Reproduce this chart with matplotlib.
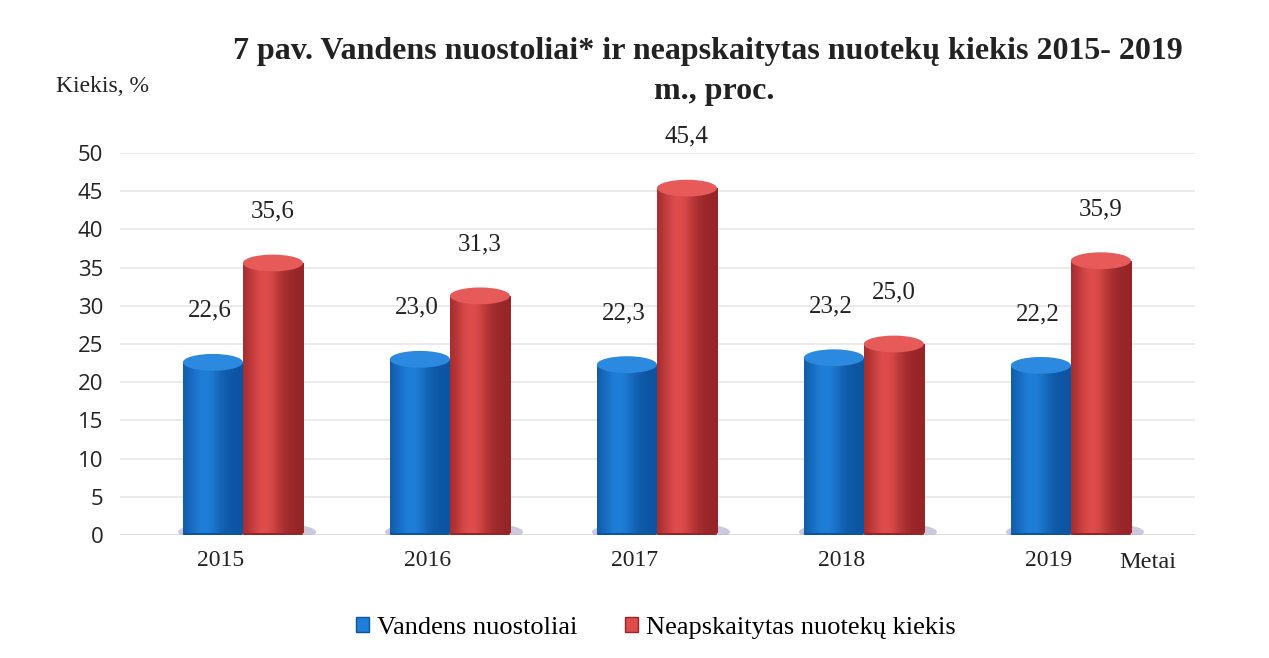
import matplotlib
matplotlib.use("Agg")
import matplotlib.pyplot as plt
import numpy as np
from matplotlib.patches import Ellipse, Patch
import matplotlib.transforms as mtransforms

years = ["2015", "2016", "2017", "2018", "2019"]
losses = [22.6, 23.0, 22.3, 23.2, 22.2]
unaccounted = [35.6, 31.3, 45.4, 25.0, 35.9]
labels_losses = ["22,6", "23,0", "22,3", "23,2", "22,2"]
labels_unacc = ["35,6", "31,3", "45,4", "25,0", "35,9"]
series_names = ["Vandens nuostoliai", "Neapskaitytas nuotekų kiekis"]
yticks = [0, 5, 10, 15, 20, 25, 30, 35, 40, 45, 50]

W, H = 1269, 658
fig = plt.figure(figsize=(W / 100, H / 100), dpi=100)
ax = fig.add_axes([120 / W, (H - 535) / H, 1075 / W, (535 - 153) / H])

x = np.arange(len(years))
bw = 0.29
blue = "#1f7fd8"
blue_dark = "#0d54a0"
red = "#df4c4c"
red_dark = "#962528"

ax.set_xlim(-0.594, 4.6)
ax.set_ylim(0, 50)

for v in yticks:
    ax.axhline(v, color="#e8e8e8", lw=1.2, zorder=0)

def cylinder(bars, base, dark, cap):
    for b in bars:
        x0, w, h = b.get_x(), b.get_width(), b.get_height()
        grad = np.linspace(0, 1, 256)
        shade = np.exp(-((grad - 0.35) ** 2) / 0.08)
        c1 = np.array(matplotlib.colors.to_rgb(dark))
        c2 = np.array(matplotlib.colors.to_rgb(base))
        img = c1[None, :] + (c2 - c1)[None, :] * shade[:, None]
        img = np.tile(img[None, :, :], (2, 1, 1))
        ax.add_patch(Ellipse((x0 + w / 2 + 0.02, 0.4), w * 1.3, 2.2,
                             color="#b9b3cf", alpha=0.7, zorder=1, lw=0))
        ax.add_patch(Ellipse((x0 + w / 2, 0.2), w, 2.0, color=dark, zorder=2, lw=0))
        im = ax.imshow(img, extent=(x0, x0 + w, 0.2, h), aspect="auto",
                       zorder=3, interpolation="bilinear")
        im.set_clip_path(b)
        ax.add_patch(Ellipse((x0 + w / 2, h), w, 2.2, color=cap, zorder=4, lw=0))

b1 = ax.bar(x - bw / 2, losses, bw, color="none", zorder=3, label=series_names[0])
b2 = ax.bar(x + bw / 2, unaccounted, bw, color="none", zorder=3, label=series_names[1])
cylinder(b1, blue, blue_dark, "#2b8ae0")
cylinder(b2, red, red_dark, "#e65a5a")

for xi, v, t in zip(x - bw / 2, losses, labels_losses):
    ax.annotate(t, (xi, v), xytext=(-2, 37), textcoords="offset points",
                ha="center", va="center", fontsize=18, family="Liberation Serif", color="#222222")
for xi, v, t in zip(x + bw / 2, unaccounted, labels_unacc):
    ax.annotate(t, (xi, v), xytext=(0, 37), textcoords="offset points",
                ha="center", va="center", fontsize=18, family="Liberation Serif", color="#222222")

ax.set_yticks(yticks)
ax.set_yticklabels([str(v) for v in yticks], fontsize=16, family="Open Sans", color="#222222")
ax.tick_params(axis="y", length=0, pad=12)
ax.set_xticks(x)
ax.set_xticklabels(years, fontsize=17, family="Liberation Serif", color="#222222")
ax.tick_params(axis="x", length=0, pad=11)
offset = mtransforms.ScaledTranslation(-22 / 100, 0, fig.dpi_scale_trans)
for lab in ax.get_xticklabels():
    lab.set_transform(lab.get_transform() + offset)
for s in ax.spines.values():
    s.set_visible(False)
ax.axhline(0, color="#d9d9d9", lw=1.2, zorder=0)

fig.text(708 / W, 1 - 51 / H, "7 pav. Vandens nuostoliai* ir neapskaitytas nuotekų kiekis 2015- 2019",
         ha="center", va="center", fontsize=23, fontweight="bold", family="Liberation Serif", color="#222222")
fig.text(714 / W, 1 - 92 / H, "m., proc.", ha="center", va="center", fontsize=23,
         fontweight="bold", family="Liberation Serif", color="#222222")
fig.text(102 / W, 1 - 87 / H, "Kiekis, %", ha="center", va="center", fontsize=17,
         family="Liberation Serif", color="#222222")
fig.text(1148 / W, 1 - 563 / H, "Metai", ha="center", va="center", fontsize=17.5,
         family="Liberation Serif", color="#222222")

handles = [Patch(facecolor=blue, edgecolor=blue_dark), Patch(facecolor=red, edgecolor=red_dark)]
fig.legend(handles, series_names, loc="center", bbox_to_anchor=(656 / W, 1 - 628 / H),
           ncol=2, frameon=False, prop={"family": "Liberation Serif", "size": 19},
           handlelength=0.5, handleheight=0.5, handletextpad=0.3, columnspacing=1.8)

fig.savefig("out.png", dpi=100)
